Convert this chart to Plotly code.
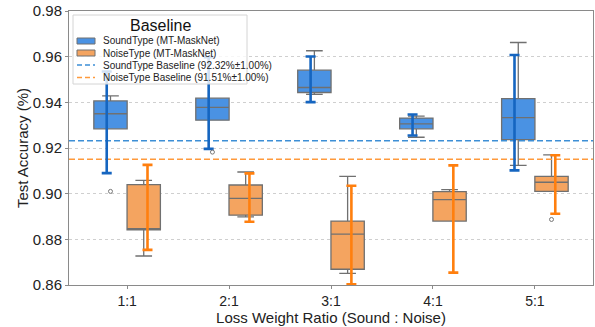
import plotly.graph_objects as go

categories = ["1:1", "2:1", "3:1", "4:1", "5:1"]

sound_q1 = [0.9284, 0.9322, 0.9443, 0.9284, 0.9237]
sound_med = [0.9350, 0.9378, 0.9465, 0.9306, 0.9333]
sound_q3 = [0.9406, 0.9418, 0.9541, 0.9331, 0.9416]
sound_lo = [0.9284, 0.9322, 0.9435, 0.9247, 0.9124]
sound_hi = [0.9428, 0.9418, 0.9626, 0.9340, 0.9662]
sound_err_lo = [0.9090, 0.9196, 0.9401, 0.9255, 0.9102]
sound_err_hi = [0.9535, 0.9598, 0.9601, 0.9347, 0.9607]
sound_out_cat = [0, 1]
sound_out_val = [0.9010, 0.9182]

noise_q1 = [0.8842, 0.8906, 0.8669, 0.8880, 0.9010]
noise_med = [0.8842, 0.8979, 0.8823, 0.8974, 0.9050]
noise_q3 = [0.9040, 0.9038, 0.8880, 0.9009, 0.9076]
noise_lo = [0.8727, 0.8898, 0.8651, 0.8880, 0.9010]
noise_hi = [0.9058, 0.9095, 0.9076, 0.9018, 0.9170]
noise_err_lo = [0.8754, 0.8877, 0.8603, 0.8654, 0.8912]
noise_err_hi = [0.9126, 0.9089, 0.9035, 0.9124, 0.9168]
noise_out_cat = [4]
noise_out_val = [0.8887]

baseline_sound = 0.9232
baseline_noise = 0.9151
legend_title = "Baseline"
legend_labels = ["SoundType (MT-MaskNet)", "NoiseType (MT-MaskNet)",
                 "SoundType Baseline (92.32%±1.00%)", "NoiseType Baseline (91.51%±1.00%)"]

BOX_OFF = 0.163
BOX_W = 0.327
ERR_OFF = 0.2
XR = [-0.57, 4.57]

C_SOUND = "#4a92e3"
C_NOISE = "#f4a460"
C_SOUND_ERR = "#1565c0"
C_NOISE_ERR = "#ff7f0e"
C_SOUND_BASE = "#3d8fd6"
C_NOISE_BASE = "#ff9a3c"
C_EDGE = "#707070"
FONT = "Liberation Sans, Arial, sans-serif"

# plot-area pixel geometry
ML, MR, MT, MB = 69, 2, 11, 42
W, H = 595, 327
PW, PH = W - ML - MR, H - MT - MB


def px(xp):
    return (xp - ML) / PW


def py(yp):
    return (H - MB - yp) / PH


idx = list(range(len(categories)))

fig = go.Figure()

fig.add_trace(go.Box(
    name=legend_labels[0],
    x=[i - BOX_OFF for i in idx],
    q1=sound_q1, median=sound_med, q3=sound_q3,
    lowerfence=sound_lo, upperfence=sound_hi,
    width=BOX_W, whiskerwidth=0.5, boxpoints=False,
    fillcolor=C_SOUND, line=dict(color=C_EDGE, width=1.3), showlegend=False,
))
fig.add_trace(go.Box(
    name=legend_labels[1],
    x=[i + BOX_OFF for i in idx],
    q1=noise_q1, median=noise_med, q3=noise_q3,
    lowerfence=noise_lo, upperfence=noise_hi,
    width=BOX_W, whiskerwidth=0.5, boxpoints=False,
    fillcolor=C_NOISE, line=dict(color=C_EDGE, width=1.3), showlegend=False,
))

fig.add_trace(go.Scatter(
    name=legend_labels[2], x=XR, y=[baseline_sound, baseline_sound],
    mode="lines", line=dict(color=C_SOUND_BASE, width=1.6, dash="6px,3px"), showlegend=False,
))
fig.add_trace(go.Scatter(
    name=legend_labels[3], x=XR, y=[baseline_noise, baseline_noise],
    mode="lines", line=dict(color=C_NOISE_BASE, width=1.6, dash="6px,3px"), showlegend=False,
))


def err_trace(off, lo, hi, color):
    mid = [(a + b) / 2 for a, b in zip(lo, hi)]
    half = [(b - a) / 2 for a, b in zip(lo, hi)]
    return go.Scatter(
        x=[i + off for i in idx], y=mid, mode="markers",
        marker=dict(size=0.1, color=color), showlegend=False, hoverinfo="skip",
        error_y=dict(type="data", array=half, symmetric=True,
                     color=color, thickness=2.6, width=5),
    )


fig.add_trace(err_trace(-ERR_OFF, sound_err_lo, sound_err_hi, C_SOUND_ERR))
fig.add_trace(err_trace(ERR_OFF, noise_err_lo, noise_err_hi, C_NOISE_ERR))

fig.add_trace(go.Scatter(
    x=[c - BOX_OFF for c in sound_out_cat], y=sound_out_val, mode="markers",
    marker=dict(symbol="circle-open", size=4, color="#777777", line=dict(width=1)),
    showlegend=False, hoverinfo="skip",
))
fig.add_trace(go.Scatter(
    x=[c + BOX_OFF for c in noise_out_cat], y=noise_out_val, mode="markers",
    marker=dict(symbol="circle-open", size=4, color="#777777", line=dict(width=1)),
    showlegend=False, hoverinfo="skip",
))

# ---- custom compact legend (matplotlib style) ----
shapes = []
annotations = []
LX0, LX1, LY0, LY1 = 73, 247, 15, 84
shapes.append(dict(type="rect", xref="paper", yref="paper", layer="above",
                   x0=px(LX0), x1=px(LX1), y0=py(LY1), y1=py(LY0),
                   fillcolor="rgba(255,255,255,0.8)", line=dict(color="#d4d4d4", width=1)))
annotations.append(dict(text=legend_title, xref="paper", yref="paper",
                        x=px((LX0 + LX1) / 2), y=py(26), xanchor="center", yanchor="middle",
                        showarrow=False, font=dict(size=16, family=FONT, color="#111111")))
rows = [41, 53, 65, 77.5]
SX0, SX1 = 77, 95
for k, (label, yr) in enumerate(zip(legend_labels, rows)):
    if k < 2:
        shapes.append(dict(type="rect", xref="paper", yref="paper", layer="above",
                           x0=px(SX0), x1=px(SX1), y0=py(yr + 3), y1=py(yr - 3),
                           fillcolor=[C_SOUND, C_NOISE][k], line=dict(color=C_EDGE, width=1)))
    else:
        shapes.append(dict(type="line", xref="paper", yref="paper", layer="above",
                           x0=px(SX0), x1=px(SX1), y0=py(yr), y1=py(yr),
                           line=dict(color=[C_SOUND_BASE, C_NOISE_BASE][k - 2], width=1.6,
                                     dash="5px,3px")))
    annotations.append(dict(text=label, xref="paper", yref="paper",
                            x=px(101), y=py(yr), xanchor="left", yanchor="middle",
                            showarrow=False, font=dict(size=10, family=FONT, color="#222222")))

fig.update_layout(
    width=W, height=H,
    margin=dict(l=ML, r=MR, t=MT, b=MB),
    paper_bgcolor="white", plot_bgcolor="white",
    boxmode="overlay",
    showlegend=False,
    font=dict(family=FONT, color="#222222"),
    shapes=shapes,
    annotations=annotations,
    xaxis=dict(
        range=XR, tickmode="array", tickvals=idx, ticktext=categories,
        showgrid=False, zeroline=False,
        showline=True, linecolor="#8a8a8a", linewidth=1, mirror=True,
        ticks="outside", ticklen=3, tickcolor="#8a8a8a",
        tickfont=dict(size=14),
        title=dict(text="Loss Weight Ratio (Sound : Noise)", font=dict(size=15), standoff=2),
    ),
    yaxis=dict(
        range=[0.86, 0.98], dtick=0.02, tick0=0.86, tickformat=".2f",
        showgrid=True, gridcolor="#cfcfcf", griddash="dot", gridwidth=1,
        zeroline=False,
        showline=True, linecolor="#8a8a8a", linewidth=1, mirror=True,
        ticks="outside", ticklen=3, tickcolor="#8a8a8a",
        tickfont=dict(size=15),
        title=dict(text="Test Accuracy (%)", font=dict(size=15), standoff=0),
    ),
)

fig.write_html("out.html")
